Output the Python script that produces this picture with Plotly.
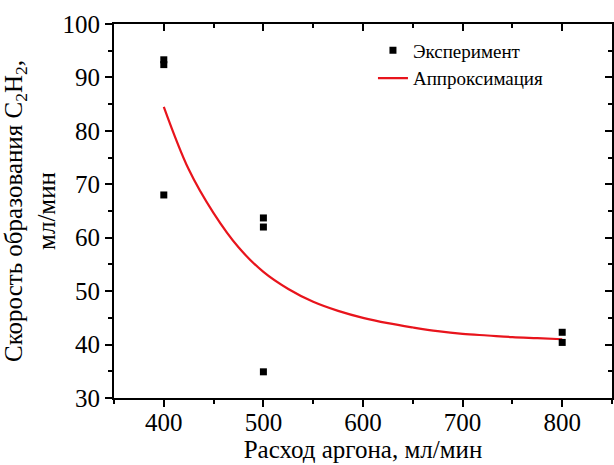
import plotly.graph_objects as go

# Experimental points
exp_x = [400, 400, 400, 500, 500, 500, 800, 800]
exp_y = [93.3, 92.4, 68.0, 63.7, 62.0, 34.9, 42.3, 40.4]

# Approximation curve
fit_x = [400, 425, 450, 475, 500, 525, 550, 575, 600, 625, 650, 675, 700, 725, 750, 775, 800]
fit_y = [84.5, 72.8, 64.6, 58.2, 53.6, 50.4, 48.0, 46.3, 45.0, 44.0, 43.2, 42.5, 42.0, 41.7, 41.4, 41.2, 41.0]

x_ticks = [400, 500, 600, 700, 800]
x_minor = [350, 450, 550, 650, 750, 850]
y_ticks = [30, 40, 50, 60, 70, 80, 90, 100]
y_minor = [35, 45, 55, 65, 75, 85, 95]

FONT = "Liberation Serif"

fig = go.Figure()
fig.add_trace(go.Scatter(
    x=fit_x, y=fit_y, mode="lines", name="Аппроксимация",
    line=dict(color="#e8141c", width=2.2, shape="spline", smoothing=1.0),
))
fig.add_trace(go.Scatter(
    x=exp_x, y=exp_y, mode="markers", name="Эксперимент",
    marker=dict(symbol="square", size=7, color="black"),
))
# empty trace that carries the mirrored top / right axes
fig.add_trace(go.Scatter(x=[None], y=[None], xaxis="x2", yaxis="y2",
                         showlegend=False, hoverinfo="skip"))

common = dict(showline=True, linecolor="black", linewidth=2, showgrid=False,
              zeroline=False, tickcolor="black", tickwidth=2, ticklen=7)


def minor(vals, side):
    return dict(tickvals=vals, ticks=side, ticklen=4, tickwidth=2, tickcolor="black")


fig.update_layout(
    width=614, height=465,
    margin=dict(l=114, r=2, t=24, b=67),
    paper_bgcolor="white", plot_bgcolor="white",
    font=dict(family=FONT, color="black"),
    xaxis=dict(range=[350, 850], tickvals=x_ticks, ticks="outside",
               minor=minor(x_minor, "outside"),
               tickfont=dict(size=25, family=FONT), ticklabelstandoff=-6,
               title=dict(text="Расход аргона, мл/мин", font=dict(size=25, family=FONT), standoff=2),
               **common),
    yaxis=dict(range=[30, 100], tickvals=y_ticks, ticks="outside",
               minor=minor(y_minor, "outside"),
               tickfont=dict(size=25, family=FONT),
               title=dict(text="Скорость образования C<sub>2</sub>H<sub>2</sub>,<br>мл/мин",
                          font=dict(size=25, family=FONT), standoff=2),
               **common),
    xaxis2=dict(range=[350, 850], overlaying="x", side="top", anchor="y",
                tickvals=x_ticks, ticks="inside", showticklabels=False,
                minor=minor(x_minor, "inside"), **common),
    yaxis2=dict(range=[30, 100], overlaying="y", side="right", anchor="x",
                tickvals=y_ticks, ticks="inside", showticklabels=False,
                minor=minor(y_minor, "inside"), **common),
    legend=dict(x=0.52, y=0.98, xanchor="left", yanchor="top",
                bgcolor="rgba(0,0,0,0)", font=dict(size=19, family=FONT),
                traceorder="reversed", tracegroupgap=0, itemwidth=30),
    showlegend=True,
)

fig.write_html("out.html", config={"displayModeBar": False},
               post_script="document.body.style.margin='0';")
